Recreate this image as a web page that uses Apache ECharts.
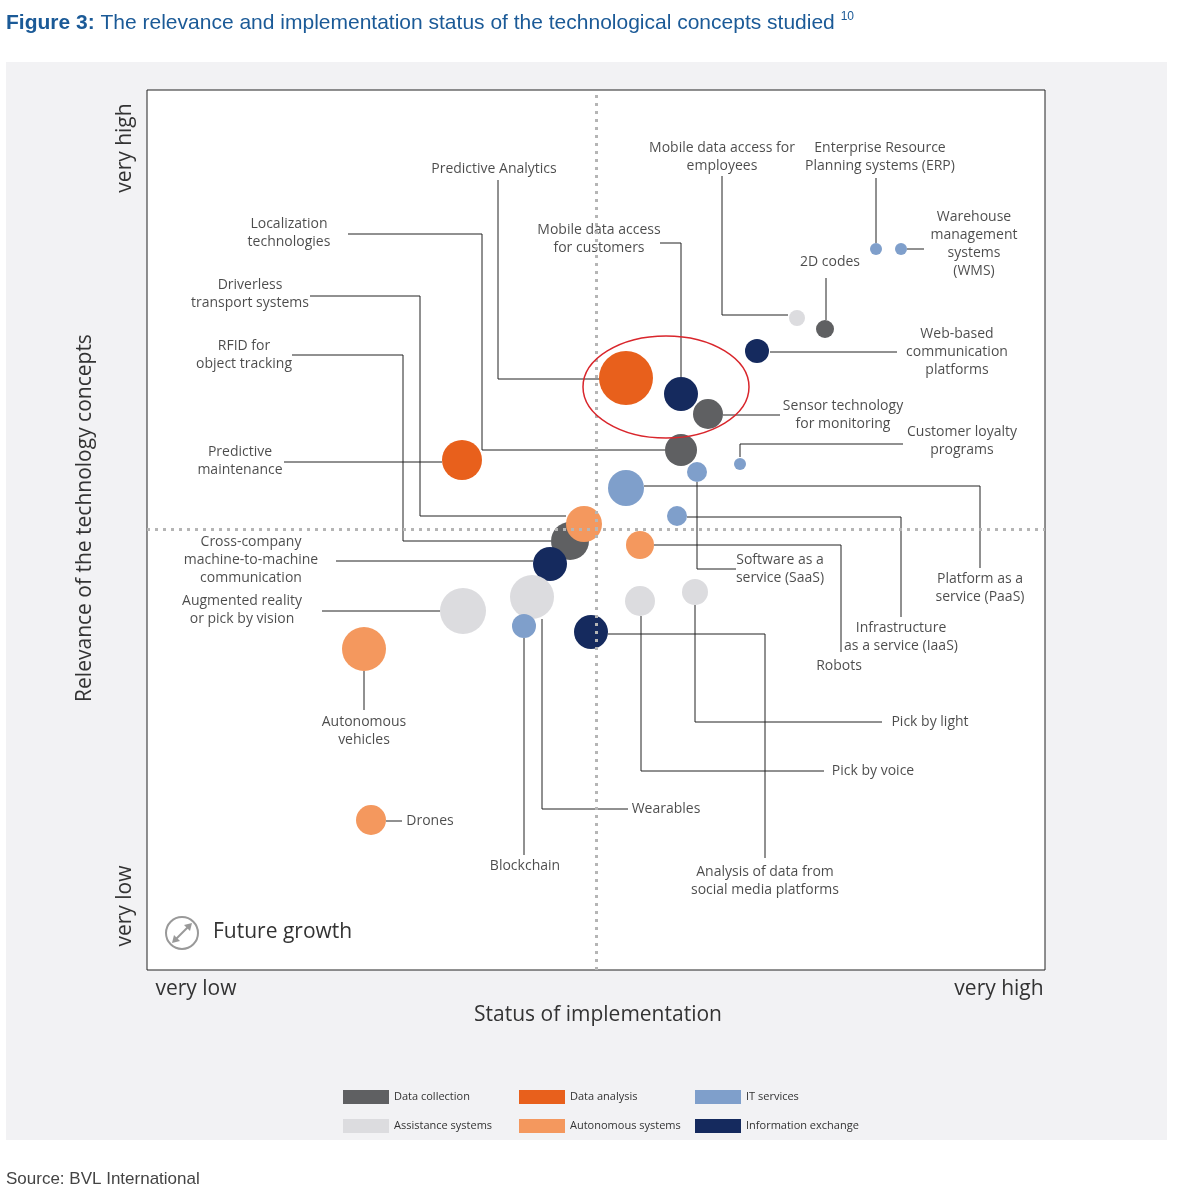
<!DOCTYPE html>
<html><head><meta charset="utf-8">
<script src="https://cdn.jsdelivr.net/npm/echarts@6/dist/echarts.min.js"></script>
<style>html,body{margin:0;padding:0;background:#fff}#c{width:1183px;height:1200px}</style>
</head><body><div id="c"></div>
<script>
const categories = ['Data collection','Data analysis','IT services','Assistance systems','Autonomous systems','Information exchange'];
const catColors = ['#5f6062','#e8601c','#7f9fcb','#dcdcdf','#f4985e','#152a5e'];
// bubbles: draw order back-to-front
const names = ['Predictive Analytics','Mobile data access for customers','Sensor technology','Localization technologies','Predictive maintenance','Mobile data access for employees','2D codes','ERP','WMS','Web-based communication','Customer loyalty','SaaS','PaaS','IaaS','RFID','Driverless transport','Robots','Cross-company M2M','Augmented reality','Wearables','Pick by voice','Pick by light','Blockchain','Social media analysis','Autonomous vehicles','Drones'];
const xs = [47.9,53.4,56.1,53.4,31.5,65.0,67.8,72.9,75.4,61.0,59.3,55.0,47.9,53.0,42.3,43.7,49.3,40.3,31.6,38.5,49.3,54.8,37.7,44.4,21.7,22.4];
const ys = [59.2,57.6,55.6,52.0,51.0,65.2,64.1,72.1,72.1,61.9,50.6,49.8,48.2,45.4,42.9,44.6,42.5,40.6,35.9,37.3,36.9,37.8,34.4,33.8,32.1,15.0];
const sizes = [54,34,30,32,40,16,18,12,12,24,12,20,36,20,38,36,28,34,46,44,30,26,24,34,44,30];
const cats = [1,5,0,0,1,3,0,2,2,5,2,2,2,2,0,4,4,5,3,3,3,3,2,5,4,4];
// leader lines (polylines)
const leaders = [
 [[35.1,79.0],[35.1,59.1],[45.3,59.1]],
 [[20.1,73.6],[33.5,73.6],[33.5,52.0],[51.8,52.0]],
 [[16.3,67.4],[27.3,67.4],[27.3,45.4],[41.9,45.4]],
 [[14.5,61.5],[25.6,61.5],[25.6,42.9],[40.4,42.9]],
 [[13.7,50.8],[29.5,50.8]],
 [[18.9,40.9],[38.6,40.9]],
 [[17.5,35.9],[29.3,35.9]],
 [[21.7,29.9],[21.7,26.0]],
 [[23.9,14.9],[25.5,14.9]],
 [[37.7,33.2],[37.7,11.5]],
 [[39.5,35.1],[39.5,16.1],[48.1,16.1]],
 [[46.1,33.6],[61.8,33.6],[61.8,11.2]],
 [[49.4,35.4],[49.4,19.9],[67.7,19.9]],
 [[54.8,36.5],[54.8,24.8],[73.5,24.8]],
 [[50.7,42.5],[69.4,42.5],[69.4,31.8]],
 [[54.0,45.3],[75.4,45.3],[75.4,35.3]],
 [[49.7,48.4],[83.3,48.4],[83.3,40.2]],
 [[55.0,48.8],[55.0,40.1],[58.9,40.1]],
 [[59.3,51.3],[59.3,52.6],[75.6,52.6]],
 [[57.6,55.5],[63.3,55.5]],
 [[62.3,61.8],[75.0,61.8]],
 [[51.3,72.7],[53.4,72.7],[53.4,59.3]],
 [[57.5,79.4],[57.5,65.5],[64.1,65.5]],
 [[72.9,79.2],[72.9,72.7]],
 [[76.0,72.1],[77.7,72.1]],
 [[67.9,69.2],[67.9,65.0]]
];
const labelTexts = ['Predictive Analytics','Localization\ntechnologies','Driverless\ntransport systems','RFID for\nobject tracking','Predictive\nmaintenance','Cross-company\nmachine-to-machine\ncommunication','Augmented reality\nor pick by vision','Autonomous\nvehicles','Drones','Blockchain','Wearables','Analysis of data from\nsocial media platforms','Pick by voice','Pick by light','Robots','Infrastructure\nas a service (IaaS)','Platform as a\nservice (PaaS)','Software as a\nservice (SaaS)','Customer loyalty\nprograms','Sensor technology\nfor monitoring','Web-based\ncommunication\nplatforms','Mobile data access\nfor customers','Mobile data access for\nemployees','Enterprise Resource\nPlanning systems (ERP)','Warehouse\nmanagement\nsystems\n(WMS)','2D codes'];
const labelX = [34.7,14.2,10.3,9.7,9.3,10.4,9.5,21.7,28.3,37.8,51.9,61.8,72.6,78.3,69.2,75.4,83.3,63.3,81.5,69.6,81.0,45.2,57.5,73.3,82.7,68.3];
const labelY = [80.1,73.7,67.6,61.5,50.9,41.0,36.0,23.9,14.9,10.4,16.1,8.9,19.9,24.8,30.4,33.3,38.2,40.1,52.9,55.5,61.8,73.1,81.3,81.3,72.6,70.8];
const midX = 44.9, midY = 44.1;

const FONT = '"Open Sans","Noto Sans",sans-serif';
const chart = echarts.init(document.getElementById('c'));
const series = [
 {type:'lines',coordinateSystem:'cartesian2d',polyline:true,z:2,silent:true,
  lineStyle:{color:'#222',width:1,opacity:1},
  data:leaders.map(c=>({coords:c}))},
 {type:'scatter',z:3,silent:true,symbolSize:(v)=>v[2],
  data:xs.map((x,i)=>({name:names[i],value:[x,ys[i],sizes[i]],itemStyle:{color:catColors[cats[i]],opacity:1}})),
  markLine:{silent:true,symbol:'none',label:{show:false},lineStyle:{color:'#b5b5b5',type:[3,5],width:3},
   data:[{xAxis:midX},{yAxis:midY}]}},
 {type:'scatter',z:4,silent:true,symbolSize:0,
  data:labelX.map((x,i)=>({value:[x,labelY[i]],label:{formatter:labelTexts[i]}})),
  label:{show:true,position:'inside',color:'#1e1e1e',fontSize:14,lineHeight:18,fontFamily:FONT,align:'center'}}
];
categories.forEach((c,i)=>series.push({type:'scatter',name:c,data:[],itemStyle:{color:catColors[i],opacity:1}}));
const legends = categories.map((c,i)=>({
 left:338+176*(i%3), top:i<3?1085:1114, icon:'rect',itemWidth:46,itemHeight:14,selectedMode:false,
 data:[{name:c,itemStyle:{color:catColors[i],opacity:1}}],
 textStyle:{fontSize:11,color:'#333',fontFamily:FONT}}));
chart.setOption({
 animation:false,
 grid:{left:147,top:90,width:898,height:880,show:true,backgroundColor:'#fff',borderColor:'#222',borderWidth:1},
 xAxis:{type:'value',min:0,max:89.8,show:false},
 yAxis:{type:'value',min:0,max:88,show:false},
 legend:legends,
 series,
 graphic:[
  {type:'rect',z:-10,shape:{x:6,y:62,width:1161,height:1078},style:{fill:'#f2f2f4'}},
  {type:'text',left:6,top:11,style:{text:'{b|Figure 3:} The relevance and implementation status of the technological concepts studied {s|10}',
    fill:'#1b5a97',font:'21px Liberation Sans, Arial, sans-serif',rich:{b:{fontWeight:'bold',fontSize:21,fill:'#1b5a97',fontFamily:'Liberation Sans'},s:{fontSize:12,verticalAlign:'top',padding:[0,0,12,0],fill:'#1b5a97'}}}},
  {type:'text',left:6,top:1171,style:{text:'Source: BVL International',fill:'#444',font:'17px Liberation Sans, Arial, sans-serif'}},
  {type:'text',x:196,y:989,style:{text:'very low',align:'center',verticalAlign:'middle',fill:'#333',font:'21px '+FONT}},
  {type:'text',x:999,y:989,style:{text:'very high',align:'center',verticalAlign:'middle',fill:'#333',font:'21px '+FONT}},
  {type:'text',x:598,y:1015,style:{text:'Status of implementation',align:'center',verticalAlign:'middle',fill:'#333',font:'21px '+FONT}},
  {type:'text',x:125,y:148,rotation:Math.PI/2,style:{text:'very high',align:'center',verticalAlign:'middle',fill:'#333',font:'21px '+FONT}},
  {type:'text',x:125,y:906,rotation:Math.PI/2,style:{text:'very low',align:'center',verticalAlign:'middle',fill:'#333',font:'21px '+FONT}},
  {type:'text',x:85,y:518,rotation:Math.PI/2,style:{text:'Relevance of the technology concepts',align:'center',verticalAlign:'middle',fill:'#333',font:'21px '+FONT}},
  {type:'ellipse',z:20,shape:{cx:666,cy:387,rx:83,ry:51},style:{fill:'none',stroke:'#d9262c',lineWidth:1.5}},
  {type:'circle',z:20,shape:{cx:182,cy:933,r:16},style:{fill:'#fff',stroke:'#999',lineWidth:2}},
  {type:'line',z:21,shape:{x1:174,y1:941,x2:190,y2:925},style:{stroke:'#999',lineWidth:2}},
  {type:'polygon',z:21,shape:{points:[[192,923],[184,925],[190,931]]},style:{fill:'#999'}},
  {type:'polygon',z:21,shape:{points:[[172,943],[174,935],[180,941]]},style:{fill:'#999'}},
  {type:'text',z:21,x:213,y:932,style:{text:'Future growth',verticalAlign:'middle',fill:'#333',font:'21px '+FONT}}
 ]
});
</script></body></html>
